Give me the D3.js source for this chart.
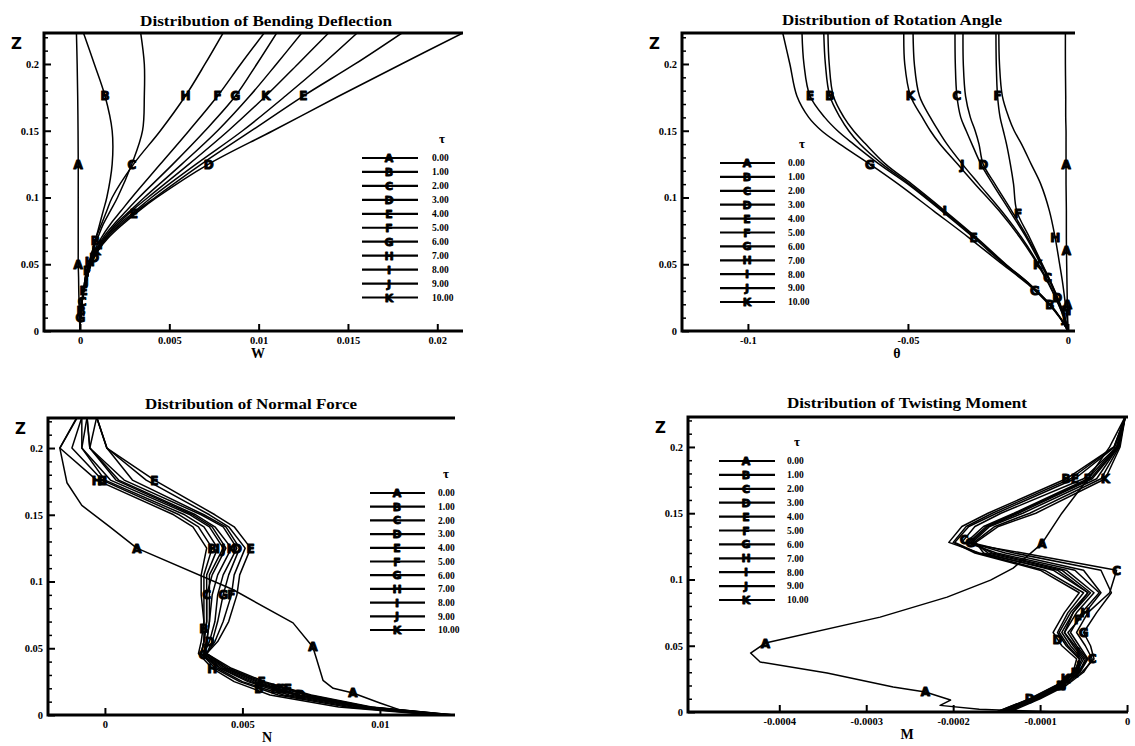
<!DOCTYPE html>
<html><head><meta charset="utf-8">
<script src="https://cdn.jsdelivr.net/npm/d3@7"></script>
<style>body{margin:0;background:#fff}svg{display:block}</style>
</head><body>
<svg id="c" width="1135" height="746"></svg>
<script>
// ---------- categories ----------
const letters = ["A","B","C","D","E","F","G","H","I","J","K"];
const tauLabels = ["0.00","1.00","2.00","3.00","4.00","5.00","6.00","7.00","8.00","9.00","10.00"];
const zTicks = [0, 0.05, 0.1, 0.15, 0.2];
const zMinor = [0.01,0.02,0.03,0.04,0.06,0.07,0.08,0.09,0.11,0.12,0.13,0.14,0.16,0.17,0.18,0.19,0.21,0.22];

// ---------- Panel 1 : bending deflection W ----------
const wTicks = [0, 0.005, 0.01, 0.015, 0.02];
const wZ = [0, 0.01, 0.02, 0.03, 0.04, 0.05, 0.06, 0.07, 0.08, 0.09, 0.1, 0.125, 0.15, 0.176, 0.2, 0.223];
const wValues = [
 [0,-0.00003,-0.00005,-0.00007,-0.00008,-0.0001,-0.0001,-0.0001,-0.0001,-0.0001,-0.0001,-0.0001,-0.00011,-0.00013,-0.00016,-0.0002], // A
 [0,0.00002,0.0001,0.0002,0.0003,0.0005,0.0007,0.0009,0.0011,0.0013,0.0015,0.0018,0.0018,0.0014,0.0008,0.0002], // B
 [0,0.00003,0.0001,0.0002,0.0004,0.0005,0.0007,0.001,0.0013,0.0017,0.0021,0.0029,0.0035,0.0036,0.0036,0.0034], // C
 [0,0.00003,0.0001,0.0002,0.0004,0.0006,0.001,0.0016,0.0024,0.0033,0.0043,0.0072,0.0108,0.0145,0.018,0.0214], // D
 [0,0.00003,0.0001,0.0002,0.0004,0.0006,0.001,0.0015,0.0023,0.0032,0.0042,0.0068,0.0096,0.0125,0.0154,0.018], // E
 [0,0.00003,0.0001,0.0002,0.0003,0.0005,0.0008,0.0012,0.0017,0.0023,0.0029,0.0045,0.0061,0.0077,0.009,0.0103], // F
 [0,0.00003,0.0001,0.0002,0.0004,0.0006,0.0009,0.0013,0.0019,0.0026,0.0033,0.0052,0.007,0.0087,0.0099,0.011], // G
 [0,0.00003,0.0001,0.0002,0.0003,0.0005,0.0007,0.0009,0.0012,0.0015,0.0018,0.003,0.0045,0.0059,0.007,0.008], // H
 [0,0.00003,0.0001,0.0002,0.0004,0.0006,0.0009,0.0014,0.002,0.0028,0.0036,0.0057,0.0077,0.0095,0.011,0.0124], // I
 [0,0.00003,0.0001,0.0002,0.0004,0.0006,0.001,0.0015,0.0022,0.0031,0.004,0.0065,0.0091,0.0115,0.0136,0.0155], // J
 [0,0.00003,0.0001,0.0002,0.0004,0.0006,0.0009,0.0014,0.0021,0.0029,0.0038,0.0061,0.0083,0.0104,0.0122,0.0139]  // K
];
const wMarks = [[0.05,0.125],[0.015,0.068,0.176],[0.022,0.125],[0.055,0.125],[0.03,0.088,0.176],[0.045,0.176],[0.01,0.176],[0.052,0.176],[0.065],[0.038],[0.06,0.176]];

// ---------- Panel 2 : rotation angle theta ----------
const tTicks = [-0.1, -0.05, 0];
const tZ = [0, 0.01, 0.02, 0.035, 0.05, 0.07, 0.09, 0.11, 0.125, 0.14, 0.15, 0.16, 0.176, 0.2, 0.223];
const tValues = [
 [0,-0.0001,-0.0002,-0.0003,-0.0004,-0.0005,-0.0005,-0.0006,-0.0006,-0.0006,-0.0006,-0.0007,-0.0007,-0.0008,-0.0008], // A
 [0,-0.0024,-0.0057,-0.012,-0.0196,-0.029,-0.039,-0.0495,-0.058,-0.065,-0.0685,-0.0712,-0.0744,-0.0758,-0.0763], // B
 [0,-0.0011,-0.0026,-0.0053,-0.0085,-0.013,-0.0182,-0.0235,-0.0272,-0.03,-0.0318,-0.0335,-0.0347,-0.0352,-0.0353], // C
 [0,-0.001,-0.0025,-0.0051,-0.0082,-0.0126,-0.0176,-0.0228,-0.0265,-0.0278,-0.029,-0.0305,-0.032,-0.0327,-0.0328], // D
 [0,-0.0025,-0.0058,-0.0122,-0.02,-0.0295,-0.0395,-0.05,-0.059,-0.067,-0.072,-0.076,-0.0806,-0.0825,-0.0831], // E
 [0,-0.001,-0.0024,-0.005,-0.008,-0.012,-0.016,-0.017,-0.018,-0.0192,-0.0202,-0.0212,-0.022,-0.0224,-0.0225], // F
 [0,-0.0026,-0.006,-0.0125,-0.0205,-0.031,-0.042,-0.053,-0.0619,-0.0713,-0.077,-0.081,-0.0847,-0.0869,-0.0891], // G
 [0,-0.0003,-0.0008,-0.0016,-0.0026,-0.004,-0.0058,-0.0085,-0.0115,-0.0145,-0.0168,-0.0185,-0.0205,-0.0214,-0.0216], // H
 [0,-0.0024,-0.0056,-0.0119,-0.0194,-0.0286,-0.0385,-0.0488,-0.057,-0.0632,-0.067,-0.07,-0.0733,-0.0746,-0.075], // I
 [0,-0.0012,-0.0029,-0.0058,-0.0092,-0.0145,-0.0208,-0.0278,-0.033,-0.0378,-0.0405,-0.043,-0.0464,-0.048,-0.0484], // J
 [0,-0.0013,-0.003,-0.006,-0.0095,-0.015,-0.0215,-0.029,-0.0345,-0.04,-0.043,-0.0455,-0.0492,-0.051,-0.0513]  // K
];
const tMarks = [[0.02,0.06,0.125],[0.02,0.176],[0.04,0.176],[0.025,0.125],[0.07,0.176],[0.088,0.176],[0.03,0.125],[0.015,0.07],[0.09],[0.01,0.125],[0.05,0.176]];

// ---------- Panel 3 : normal force N ----------
const nTicks = [0, 0.005, 0.01];
const nZ = [0, 0.006, 0.015, 0.025, 0.035, 0.046, 0.055, 0.07, 0.09, 0.105, 0.125, 0.141, 0.15, 0.176, 0.2, 0.223];
const nAZ = [0, 0.004, 0.009, 0.0165, 0.02, 0.026, 0.041, 0.051, 0.069, 0.094, 0.125, 0.141, 0.157, 0.174, 0.2, 0.223];
const nValues = [
 [0.0127,0.0107,0.01,0.00902,0.0083,0.00793,0.00771,0.00756,0.00684,0.00465,0.00116,0.00018,-0.00084,-0.00138,-0.00164,-0.001], // A (own z)
 [0.0121,0.0088,0.0063,0.0049,0.004,0.0035,0.0036,0.0036,0.0036,0.0036,0.0039,0.0034,0.0027,-0.0001,-0.0012,-0.00084], // B
 [0.0124,0.0093,0.0069,0.0053,0.0042,0.0035,0.0036,0.0037,0.0037,0.0039,0.0044,0.0039,0.0032,0.0004,-0.00055,-0.00065], // C
 [0.0125,0.0095,0.0071,0.0055,0.0044,0.0036,0.0038,0.004,0.0041,0.0043,0.0048,0.0043,0.0035,0.0007,-0.00055,-0.0003], // D
 [0.0127,0.0097,0.0075,0.0058,0.0046,0.0037,0.0041,0.0045,0.0048,0.0049,0.0053,0.0047,0.004,0.0018,0.00007,-0.0003], // E
 [0.0126,0.0096,0.0074,0.0057,0.0045,0.0037,0.004,0.0043,0.0046,0.0047,0.0051,0.0045,0.0038,0.0015,0.00007,-0.0003], // F
 [0.0125,0.0096,0.0073,0.0056,0.0044,0.0037,0.0039,0.0041,0.0043,0.0045,0.0049,0.0044,0.0036,0.001,0.00007,-0.0003], // G
 [0.012,0.0085,0.006,0.0047,0.0039,0.0034,0.0035,0.0036,0.0035,0.0035,0.0037,0.0032,0.0025,-0.0003,-0.00164,-0.00102], // H
 [0.0122,0.009,0.0065,0.005,0.0041,0.0035,0.0036,0.0037,0.0037,0.0037,0.0041,0.0036,0.0029,0,-0.00084,-0.00084], // I
 [0.0123,0.0092,0.0067,0.0052,0.0042,0.0036,0.0037,0.0038,0.0038,0.0038,0.0043,0.0038,0.0031,0.0002,-0.00084,-0.00065], // J
 [0.0124,0.0094,0.007,0.0054,0.0043,0.0036,0.0037,0.0038,0.0039,0.0041,0.0046,0.004,0.0033,0.0005,-0.00055,-0.00065]  // K
];
const nMarks = [[0.0165,0.051,0.125],[0.02,0.065,0.125,0.176],[0.045,0.09],[0.015,0.055,0.125],[0.02,0.125,0.176],[0.025,0.09],[0.02,0.09],[0.035,0.176],[0.125,0.176],[0.05,0.125],[0.02,0.125]];

// ---------- Panel 4 : twisting moment M ----------
const mTicks = [-0.0004, -0.0003, -0.0002, -0.0001, 0];
const mZ = [0, 0.01, 0.02, 0.03, 0.04, 0.05, 0.06, 0.075, 0.09, 0.107, 0.12, 0.128, 0.14, 0.15, 0.176, 0.2, 0.223];
const mAZ = [0, 0.002, 0.005, 0.009, 0.0151, 0.0189, 0.0294, 0.0377, 0.0445, 0.052, 0.0716, 0.0867, 0.0995, 0.1086, 0.127, 0.15, 0.176, 0.2, 0.223];
const mValues = [
 [-0.00008,-0.00017,-0.000215,-0.000203,-0.000232,-0.000269,-0.000345,-0.000422,-0.000433,-0.000416,-0.000284,-0.000207,-0.000157,-0.000131,-0.000098,-0.000075,-0.000045,-0.00002,-0.000002], // A (own z)
 [-0.00014,-0.000105,-0.000075,-0.000055,-0.000048,-0.00006,-0.000072,-0.000062,-0.000045,-0.00008,-0.00017,-0.000205,-0.00019,-0.00016,-0.00007,-0.000015,-0.000002], // B
 [-0.000135,-0.0001,-0.00007,-0.00005,-0.00004,-0.000048,-0.000058,-0.000045,-0.00002,-0.000012,-0.00012,-0.00019,-0.000175,-0.000145,-0.00005,-0.000012,-0.000002], // C
 [-0.00015,-0.000112,-0.000082,-0.000062,-0.000058,-0.000075,-0.000085,-0.000072,-0.000055,-0.0001,-0.000175,-0.0002,-0.000185,-0.000155,-0.000065,-0.000015,-0.000002], // D
 [-0.000148,-0.00011,-0.00008,-0.00006,-0.000055,-0.00007,-0.00008,-0.000068,-0.00005,-0.000095,-0.000172,-0.000198,-0.000182,-0.00015,-0.00006,-0.000014,-0.000002], // E
 [-0.00014,-0.000104,-0.000074,-0.000054,-0.000045,-0.000055,-0.000065,-0.000052,-0.000032,-0.00006,-0.00015,-0.000185,-0.000165,-0.00013,-0.000045,-0.000012,-0.000002], // F
 [-0.000138,-0.000102,-0.000072,-0.000052,-0.000038,-0.000042,-0.00005,-0.000035,-0.000018,-0.00003,-0.00013,-0.00018,-0.00016,-0.000125,-0.00004,-0.00001,-0.000002], // G
 [-0.000142,-0.000106,-0.000076,-0.000056,-0.000046,-0.000058,-0.000068,-0.000048,-0.00003,-0.00005,-0.00014,-0.000182,-0.000162,-0.000128,-0.000042,-0.000011,-0.000002], // H
 [-0.000145,-0.000108,-0.000078,-0.000058,-0.00005,-0.000062,-0.000072,-0.000058,-0.000038,-0.00007,-0.000155,-0.000178,-0.000158,-0.00012,-0.000035,-0.00001,-0.000002], // I
 [-0.000147,-0.000109,-0.000079,-0.000059,-0.000052,-0.000065,-0.000075,-0.000062,-0.000042,-0.000075,-0.00016,-0.000176,-0.000152,-0.000112,-0.00003,-0.000009,-0.000002], // J
 [-0.00015,-0.000111,-0.000081,-0.000061,-0.000054,-0.000068,-0.000078,-0.000065,-0.000045,-0.000085,-0.000165,-0.000174,-0.000148,-0.000105,-0.000025,-0.000008,-0.000002]  // K
];
const mMarks = [[0.0151,0.052,0.127],[0.02,0.176],[0.04,0.107,0.13],[0.01,0.055],[0.03,0.176],[0.07,0.176],[0.06,0.128],[0.02,0.075],[0.045],[0.035],[0.025,0.176]];

// ---------- layout ----------
const panels = [
 {id:1,title:"Distribution of Bending Deflection",titleX:140,titleY:26,titleW:252,xLabel:"W",xLabelX:258,
  left:44,right:463,top:33,bottom:331,xdom:[-0.002016,0.02144],zdom:[0,0.2232],
  xticks:wTicks,z:wZ,zA:wZ,vals:wValues,marks:wMarks,smooth:true,
  leg:{x1:362,x2:418,mx:389,tx:432,y0:158,dy:13.95,taux:442}},
 {id:2,title:"Distribution of Rotation Angle",titleX:782,titleY:25,titleW:220,xLabel:"θ",xLabelX:897,
  left:682,right:1075,top:33,bottom:331,xdom:[-0.1206,0.0022],zdom:[0,0.2232],
  xticks:tTicks,z:tZ,zA:tZ,vals:tValues,marks:tMarks,smooth:true,
  leg:{x1:720,x2:775,mx:747,tx:788,y0:163,dy:13.9,taux:802}},
 {id:3,title:"Distribution of Normal Force",titleX:145,titleY:409,titleW:212,xLabel:"N",xLabelX:267,
  left:48,right:455,top:418,bottom:715,xdom:[-0.00207,0.01273],zdom:[0,0.2225],
  xticks:nTicks,z:nZ,zA:nAZ,vals:nValues,marks:nMarks,smooth:false,
  leg:{x1:370,x2:425,mx:397,tx:438,y0:493,dy:13.7,taux:446}},
 {id:4,title:"Distribution of Twisting Moment",titleX:787,titleY:408,titleW:240,xLabel:"M",xLabelX:907,
  left:688,right:1128,top:417,bottom:712,xdom:[-0.000505,0.0000011],zdom:[0,0.2226],
  xticks:mTicks,z:mZ,zA:mAZ,vals:mValues,marks:mMarks,smooth:false,
  leg:{x1:719,x2:775,mx:746,tx:787,y0:461,dy:13.9,taux:797}}
];

const svg = d3.select("#c");
const serif = "'Liberation Serif','DejaVu Serif',serif";
const sans = "'DejaVu Sans','Liberation Sans',sans-serif";

function interp(zs, xs, z) {
  for (let j = 0; j < zs.length - 1; j++) {
    if (z >= zs[j] && z <= zs[j+1]) {
      const t = (z - zs[j]) / (zs[j+1] - zs[j]);
      return xs[j] + t * (xs[j+1] - xs[j]);
    }
  }
  return xs[xs.length-1];
}
const fmt = d => d === 0 ? "0" : String(d);

panels.forEach(p => {
  const x = d3.scaleLinear().domain(p.xdom).range([p.left, p.right]);
  const y = d3.scaleLinear().domain(p.zdom).range([p.bottom, p.top]);
  const g = svg.append("g");
  const clipId = "clip" + p.id;
  svg.append("clipPath").attr("id", clipId).append("rect")
    .attr("x", p.left).attr("y", p.top).attr("width", p.right - p.left).attr("height", p.bottom - p.top);

  // title
  g.append("text").attr("x", p.titleX).attr("y", p.titleY).text(p.title)
    .attr("font-family", serif).attr("font-weight", "bold").attr("font-size", 14)
    .attr("textLength", p.titleW).attr("lengthAdjust", "spacingAndGlyphs");

  // curves
  const line = d3.line().x(d => x(d[0])).y(d => y(d[1]))
    .curve(p.smooth ? d3.curveCatmullRom.alpha(0.5) : d3.curveLinear);
  const plot = g.append("g").attr("clip-path", `url(#${clipId})`);
  letters.forEach((L, i) => {
    const zs = i === 0 ? p.zA : p.z;
    const xs = p.vals[i];
    const pts = xs.map((v, j) => [v, zs[j]]);
    plot.append("path").attr("d", line(pts)).attr("fill", "none")
      .attr("stroke", "#000").attr("stroke-width", 1.5).attr("stroke-linejoin", "round");
  });
  letters.forEach((L, i) => {
    const zs = i === 0 ? p.zA : p.z;
    const xs = p.vals[i];
    p.marks[i].forEach(zm => {
      plot.append("text").attr("x", x(interp(zs, xs, zm))).attr("y", y(zm))
        .attr("text-anchor", "middle").attr("dy", "0.37em")
        .attr("font-family", sans).attr("font-weight", "bold").attr("font-size", 12)
        .attr("stroke", "#000").attr("stroke-width", 1).attr("stroke-linejoin", "round")
        .text(L);
    });
  });

  // axes
  const xAxis = d3.axisBottom(x).tickValues(p.xticks).tickSizeInner(-7).tickSizeOuter(0).tickPadding(11).tickFormat(fmt);
  const ga = g.append("g").attr("transform", `translate(0,${p.bottom})`).call(xAxis);
  ga.select(".domain").remove();
  ga.selectAll("line").attr("stroke-width", 2);
  ga.selectAll("text").attr("font-family", serif).attr("font-weight", "bold").attr("font-size", 10.5).attr("dy", "0.35em").attr("y", 9);

  const yAxis = d3.axisLeft(y).tickValues(zTicks).tickSizeInner(-7).tickSizeOuter(0).tickPadding(5).tickFormat(fmt);
  const gy = g.append("g").attr("transform", `translate(${p.left},0)`).call(yAxis);
  gy.select(".domain").remove();
  gy.selectAll("line").attr("stroke-width", 2);
  gy.selectAll("text").attr("font-family", serif).attr("font-weight", "bold").attr("font-size", 10.5);
  const yMin = d3.axisLeft(y).tickValues(zMinor).tickSizeInner(-4).tickSizeOuter(0).tickFormat("");
  const gm = g.append("g").attr("transform", `translate(${p.left},0)`).call(yMin);
  gm.select(".domain").remove();
  gm.selectAll("line").attr("stroke-width", 1.5);

  // frame: left, bottom, top
  g.append("path").attr("d", `M${p.right},${p.top}H${p.left}V${p.bottom}H${p.right}`)
    .attr("fill", "none").attr("stroke", "#000").attr("stroke-width", 3);

  // labels
  g.append("text").attr("x", p.xLabelX).attr("y", p.bottom + 22).attr("dy", "0.35em")
    .attr("text-anchor", "middle").attr("font-family", serif).attr("font-weight", "bold").attr("font-size", 14).text(p.xLabel);
  g.append("text").attr("x", p.left - 33).attr("y", p.top + 11).attr("dy", "0.35em")
    .attr("font-family", sans).attr("font-weight", "bold").attr("font-size", 15).text("Z");

  // legend
  const lg = g.append("g");
  lg.append("text").attr("x", p.leg.taux).attr("y", p.leg.y0 - 20).attr("dy", "0.35em")
    .attr("text-anchor", "middle").attr("font-family", serif).attr("font-weight", "bold").attr("font-size", 13).text("τ");
  letters.forEach((L, i) => {
    const yy = p.leg.y0 + i * p.leg.dy;
    lg.append("line").attr("x1", p.leg.x1).attr("x2", p.leg.x2).attr("y1", yy).attr("y2", yy)
      .attr("stroke", "#000").attr("stroke-width", 2.2);
    lg.append("text").attr("x", p.leg.mx).attr("y", yy).attr("dy", "0.37em").attr("text-anchor", "middle")
      .attr("font-family", sans).attr("font-weight", "bold").attr("font-size", 11)
      .attr("stroke", "#000").attr("stroke-width", 0.9).attr("stroke-linejoin", "round").text(L);
    lg.append("text").attr("x", p.leg.tx).attr("y", yy).attr("dy", "0.35em")
      .attr("font-family", serif).attr("font-weight", "bold").attr("font-size", 9.5).text(tauLabels[i]);
  });
});
</script>
</body></html>
